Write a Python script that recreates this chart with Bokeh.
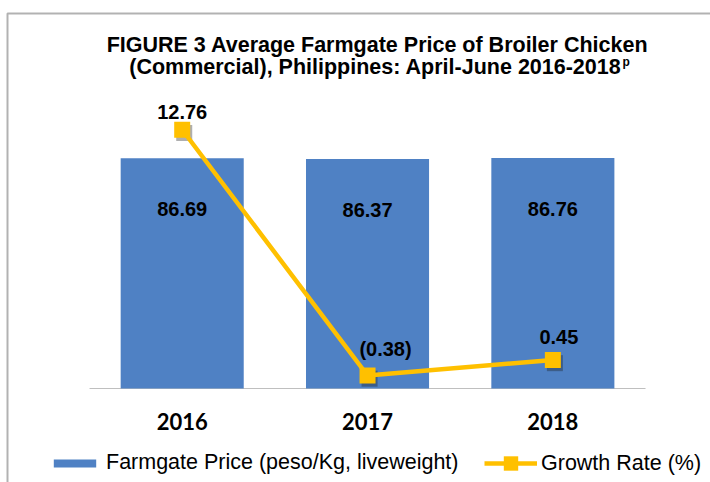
from bokeh.plotting import figure
from bokeh.models import (Range1d, Label, Legend, LegendItem,
                          BoxAnnotation, ColumnDataSource)
from bokeh.core.properties import value
from bokeh.embed import file_html
from bokeh.resources import INLINE

# ---- data ----
years = ["2016", "2017", "2018"]
prices = [86.69, 86.37, 86.76]
growth = [12.76, -0.38, 0.45]

title_line1 = "FIGURE 3 Average Farmgate Price of Broiler Chicken"
title_line2 = "(Commercial), Philippines: April-June 2016-2018"
title_sup = "p"
bar_legend = "Farmgate Price (peso/Kg, liveweight)"
line_legend = "Growth Rate (%)"

price_labels = [f"{v:.2f}" for v in prices]
growth_labels = [f"({abs(v):.2f})" if v < 0 else f"{v:.2f}" for v in growth]
xpos = list(range(len(years)))  # category index positions

# ---- styles ----
BLUE = "#4F81C4"
GOLD = "#FFC000"
ARIAL = "Liberation Sans"
label_dx = [0, 18, 6]
label_dy = [-18, -27, -23]

W, H = 710, 482
X0, X1 = -0.9804, 2.8506
G0, G1 = -6.10, 19.67
SHX, SHY = 0.011, 0.17   # marker drop-shadow offset (2px right, 3px down)

p = figure(width=W, height=H,
           x_range=Range1d(X0, X1),
           y_range=Range1d(-35.39, 146.08),
           output_backend="svg", toolbar_location=None, tools="",
           x_axis_location=None, y_axis_location=None,
           min_border_left=0, min_border_right=0,
           min_border_top=0, min_border_bottom=0)
p.extra_y_ranges = {"growth": Range1d(G0, G1),
                    "growth_sh": Range1d(G0 + SHY, G1 + SHY),
                    "px": Range1d(H, 0)}
p.extra_x_ranges = {"px": Range1d(0, W),
                    "sh": Range1d(X0 - SHX, X1 - SHX)}
p.outline_line_color = None
p.grid.grid_line_color = None
p.background_fill_color = "white"
p.border_fill_color = "white"

src = ColumnDataSource(dict(x=xpos, years=years, prices=prices, growth=growth,
                            plabel=price_labels, glabel=growth_labels,
                            dx=label_dx, dy=label_dy))

# category axis baseline
p.segment(x0=[xpos[0] - 0.5], x1=[xpos[-1] + 0.5], y0=[0], y1=[0],
          line_color="#BFBFBF", line_width=1)

bars = p.vbar(x="x", top="prices", width=0.664, source=src,
              fill_color=BLUE, line_color=None)
p.scatter(x="x", y="growth", x_range_name="sh", y_range_name="growth_sh",
          source=src, marker="square", size=16, fill_color="#1a1a1a",
          fill_alpha=0.35, line_color=None)
line = p.line(x="x", y="growth", y_range_name="growth", source=src,
              line_color=GOLD, line_width=4.5)
marks = p.scatter(x="x", y="growth", y_range_name="growth", source=src,
                  marker="square", size=16, fill_color=GOLD, line_color=None)

p.text(x="x", y="prices", text="plabel", source=src,
       text_align="center", text_baseline="middle", y_offset=51,
       text_font=value(ARIAL), text_font_style="bold",
       text_font_size="20px", text_color="black")
p.text(x="x", y="growth", text="glabel", source=src, y_range_name="growth",
       text_align="center", text_baseline="middle",
       x_offset="dx", y_offset="dy",
       text_font=value(ARIAL), text_font_style="bold",
       text_font_size="20px", text_color="black")

# category (year) labels under the baseline
p.text(x="x", y=0, text="years", source=src,
       text_align="center", text_baseline="middle", y_offset=33,
       text_font=value("Lato"), text_font_style="bold",
       text_font_size="22px", text_color="black")

# title
tkw = dict(x_range_name="px", y_range_name="px", text_baseline="middle",
           text_font=ARIAL, text_font_style="bold", text_color="black")
p.add_layout(Label(x=377, y=44, text=title_line1, text_align="center",
                   text_font_size="21.5px", **tkw))
p.add_layout(Label(x=621, y=66, text=title_line2, text_align="right",
                   text_font_size="21.5px", **tkw))
p.add_layout(Label(x=622, y=61, text=title_sup, text_align="left",
                   text_font_size="12px", **tkw))

# legends
leg1 = Legend(items=[LegendItem(label=bar_legend, renderers=[bars])],
              location=(48, 7), orientation="horizontal",
              glyph_width=53, glyph_height=10, label_standoff=5,
              padding=0, margin=0, spacing=0,
              border_line_color=None, background_fill_alpha=0,
              label_text_font=ARIAL, label_text_font_size="21.5px",
              label_text_color="black")
leg2 = Legend(items=[LegendItem(label=line_legend, renderers=[line, marks])],
              location=(484, 1), orientation="horizontal",
              glyph_width=53, glyph_height=36, label_standoff=4,
              padding=0, margin=0, spacing=0,
              border_line_color=None, background_fill_alpha=0,
              label_text_font=ARIAL, label_text_font_size="21.5px",
              label_text_color="black")
p.add_layout(leg1)
p.add_layout(leg2)

# outer border (left and top edges visible)
p.add_layout(BoxAnnotation(left=7, right=W + 200, top=13, bottom=H + 200,
                           x_range_name="px", y_range_name="px",
                           fill_alpha=0, fill_color=None,
                           line_color="black", line_width=2))

open("out.html", "w").write(file_html(p, INLINE))
